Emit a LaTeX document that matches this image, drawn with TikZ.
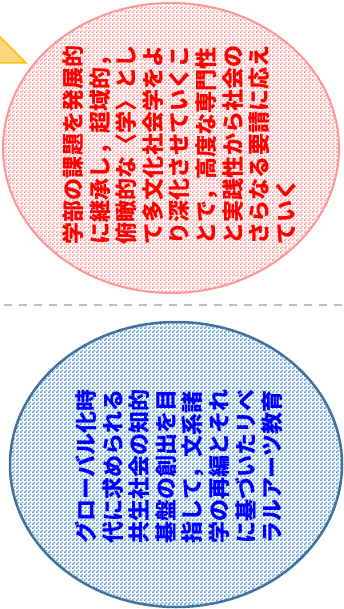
\documentclass[tikz,border=0pt]{standalone}
\usepackage{fontspec}
\newfontfamily\cjk{Noto Sans CJK JP}
\usetikzlibrary{patterns}
\pgfdeclarepatternformonly{finecheck}{\pgfpointorigin}{\pgfqpoint{4pt}{4pt}}{\pgfqpoint{4pt}{4pt}}{%
  \pgfpathrectangle{\pgfpointorigin}{\pgfqpoint{2pt}{2pt}}%
  \pgfpathrectangle{\pgfqpoint{2pt}{2pt}}{\pgfqpoint{2pt}{2pt}}%
  \pgfusepath{fill}}
\definecolor{redfill}{RGB}{255,153,153}
\definecolor{redline}{RGB}{255,150,150}
\definecolor{bluefill}{RGB}{91,155,213}
\definecolor{blueline}{RGB}{65,113,156}
\definecolor{trifill}{RGB}{255,214,128}
\definecolor{triline}{RGB}{255,192,0}
\definecolor{dashgray}{RGB}{190,190,190}
\tikzset{
  redoval/.style={draw=redline, line width=2pt, pattern=finecheck, pattern color=redfill},
  blueoval/.style={draw=blueline, line width=2.5pt, pattern=finecheck, pattern color=bluefill},
  vtext/.style={rotate=90, align=left, inner sep=0pt, font=\cjk\bfseries\fontsize{22}{26.6}\selectfont},
}
\begin{document}
\begin{tikzpicture}[x=1pt,y=-1pt]
\useasboundingbox (0,0) rectangle (344,609);
\begin{scope}
\clip (0,0) rectangle (344,609);
\fill[trifill, draw=triline, line width=1.5pt] (-10,27) -- (26,63) -- (-10,63) -- cycle;
\draw[redoval] (171,148) ellipse [x radius=168, y radius=145];
\draw[blueoval] (176,464.5) ellipse [x radius=166, y radius=142.5];
\end{scope}
\coordinate (dl) at (4,305);
\coordinate (dr) at (344,305);
\draw[dashgray, line width=2pt, dash pattern=on 8pt off 7pt] (dl) -- (dr);
\node[vtext, text=red] (rt) at (179.5,145) {学部の課題を発展的\\に継承し，超域的，\\俯瞰的な〈学〉とし\\て多文化社会学をよ\\り深化させていくこ\\とで，高度な専門性\\と実践性から社会の\\さらなる要請に応え\\ていく};
\node[vtext, text=blue] (bt) at (179,466) {グローバル化時\\代に求められる\\共生社会の知的\\基盤の創出を目\\指して，文系諸\\学の再編とそれ\\に基づいたリベ\\ラルアーツ教育};
\end{tikzpicture}
\end{document}
